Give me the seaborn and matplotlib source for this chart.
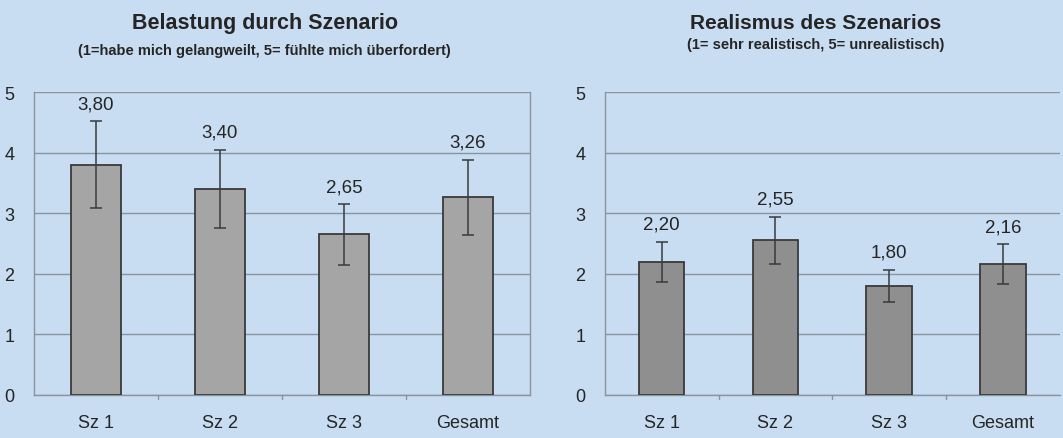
import matplotlib
matplotlib.use("Agg")
import matplotlib.pyplot as plt
import seaborn as sns
import pandas as pd

# data
categories = ["Sz 1", "Sz 2", "Sz 3", "Gesamt"]
belastung = [3.80, 3.40, 2.65, 3.26]
belastung_err = [0.72, 0.65, 0.50, 0.62]
realismus = [2.20, 2.55, 1.80, 2.16]
realismus_err = [0.33, 0.39, 0.27, 0.33]
value_labels_left = ["3,80", "3,40", "2,65", "3,26"]
value_labels_right = ["2,20", "2,55", "1,80", "2,16"]

BG = "#c9ddf2"
GRID = "#8a949e"
TXT = "#252525"

sns.set_style("white")
plt.rcParams["font.family"] = ["Liberation Sans", "DejaVu Sans"]

fig = plt.figure(figsize=(10.63, 4.39), dpi=100)
fig.patch.set_facecolor(BG)

ax1 = fig.add_axes([0.032, 0.098, 0.4666, 0.690])
ax2 = fig.add_axes([0.569, 0.098, 0.428, 0.690])


def draw(ax, vals, errs, labels, color):
    df = pd.DataFrame({"cat": categories, "val": vals})
    sns.barplot(data=df, x="cat", y="val", color=color, width=0.4,
                edgecolor="#3a3a3a", linewidth=1.3, saturation=1, ax=ax, zorder=3)
    ax.errorbar(range(len(vals)), vals, yerr=errs, fmt="none",
                ecolor="#3a3a3a", elinewidth=1.1, capsize=4, capthick=1.1, zorder=4)
    for i, (v, e, t) in enumerate(zip(vals, errs, labels)):
        ax.text(i, v + e + 0.15, t, ha="center", va="bottom", fontsize=13.5, color=TXT)
    ax.set_facecolor(BG)
    ax.set_ylim(0, 5)
    ax.set_xlim(-0.5, 3.5)
    ax.set_yticks([0, 1, 2, 3, 4, 5])
    ax.yaxis.grid(True, color=GRID, linewidth=1)
    ax.set_axisbelow(True)
    ax.set_xlabel("")
    ax.set_ylabel("")
    ax.set_xticks([0, 1, 2, 3])
    ax.set_xticklabels(categories, fontsize=13, color=TXT)
    ax.tick_params(axis="x", length=0, pad=14)
    ax.tick_params(axis="y", labelsize=13, colors=TXT, length=4, color=GRID, pad=10)
    for x in [0.5, 1.5, 2.5]:
        ax.plot([x, x], [0, -0.06], color=GRID, lw=1, clip_on=False)
    for s in ["left", "right", "bottom"]:
        ax.spines[s].set_color(GRID)
        ax.spines[s].set_linewidth(1)
    ax.spines["top"].set_visible(False)


draw(ax1, belastung, belastung_err, value_labels_left, "#a5a5a5")
draw(ax2, realismus, realismus_err, value_labels_right, "#8f8f8f")
ax2.spines["right"].set_visible(False)

fig.text(0.249, 0.947, "Belastung durch Szenario", ha="center", va="center",
         fontsize=15.5, fontweight="bold", color=TXT)
fig.text(0.249, 0.884, "(1=habe mich gelangweilt, 5= fühlte mich überfordert)", ha="center",
         va="center", fontsize=10.5, fontweight="bold", color=TXT)
fig.text(0.767, 0.947, "Realismus des Szenarios", ha="center", va="center",
         fontsize=15, fontweight="bold", color=TXT)
fig.text(0.767, 0.898, "(1= sehr realistisch, 5= unrealistisch)", ha="center",
         va="center", fontsize=10.5, fontweight="bold", color=TXT)

fig.savefig("out.png", dpi=100, facecolor=BG)
